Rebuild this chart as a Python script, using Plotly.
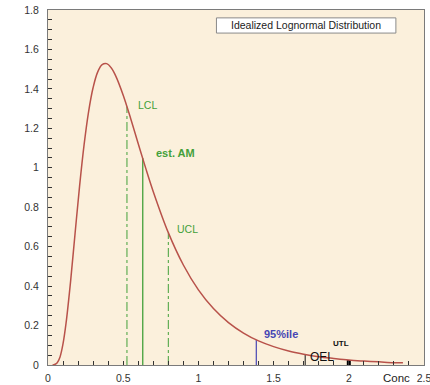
import plotly.graph_objects as go

# Curve (idealized lognormal density)
conc = [0.03, 0.04, 0.06, 0.08, 0.10, 0.12, 0.15, 0.18, 0.21, 0.24, 0.27, 0.30, 0.33,
        0.36, 0.39, 0.42, 0.45, 0.50, 0.55, 0.60, 0.65, 0.70, 0.80, 0.90, 1.0,
        1.1, 1.2, 1.3, 1.4, 1.5, 1.6, 1.7, 1.8, 1.9, 2.0, 2.1, 2.2, 2.3, 2.36]
density = [0.0, 0.001, 0.010, 0.041, 0.108, 0.212, 0.423, 0.667, 0.907, 1.117, 1.285,
           1.407, 1.485, 1.523, 1.528, 1.507, 1.466, 1.368, 1.249, 1.122, 0.997,
           0.879, 0.671, 0.507, 0.381, 0.286, 0.215, 0.162, 0.122, 0.093, 0.071,
           0.055, 0.042, 0.033, 0.025, 0.020, 0.016, 0.012, 0.011]

# Reference markers
marker_names = ["LCL", "est. AM", "UCL", "95%ile", "OEL", "UTL"]
marker_x = [0.525, 0.63, 0.80, 1.385, 1.71, 2.0]
marker_top = [1.31, 1.05, 0.67, 0.127, 0.055, 0.025]

x_tickvals = [0, 0.5, 1, 1.5, 2, 2.5]
x_ticktext = ["0", "0.5", "1", "1.5", "2", "2.5"]
y_tickvals = [0, 0.2, 0.4, 0.6, 0.8, 1, 1.2, 1.4, 1.6, 1.8]
y_ticktext = ["0", "0.2", "0.4", "0.6", "0.8", "1", "1.2", "1.4", "1.6", "1.8"]

green = "#43a03a"
blue = "#4646b4"
styles = {
    "LCL": dict(color=green, width=1, dash="dashdot"),
    "est. AM": dict(color=green, width=1.3, dash="solid"),
    "UCL": dict(color=green, width=1, dash="dashdot"),
    "95%ile": dict(color=blue, width=1.2, dash="solid"),
    "OEL": dict(color="#111111", width=1, dash="solid"),
    "UTL": dict(color="#000000", width=4, dash="solid"),
}

fig = go.Figure()
for name, xv, top in zip(marker_names, marker_x, marker_top):
    fig.add_trace(go.Scatter(x=[xv, xv], y=[0, top], mode="lines",
                             line=styles[name], showlegend=False, hoverinfo="skip"))

fig.add_trace(go.Scatter(x=conc, y=density, mode="lines",
                         line=dict(color="#b8524a", width=1.5, shape="spline"),
                         showlegend=False))

font = "Arial, Liberation Sans, sans-serif"
ann = [
    dict(x=0.66, y=1.32, text="LCL", font=dict(color=green, size=10.5)),
    dict(x=0.845, y=1.075, text="<b>est. AM</b>", font=dict(color=green, size=11)),
    dict(x=0.93, y=0.69, text="UCL", font=dict(color=green, size=10.5)),
    dict(x=1.55, y=0.158, text="<b>95%ile</b>", font=dict(color=blue, size=11)),
    dict(x=1.945, y=0.107, text="<b>UTL</b>", font=dict(color="#111111", size=8)),
    dict(x=1.82, y=0.04, text="OEL", font=dict(color="#111111", size=12)),
    dict(x=1.713, y=1.722, text="Idealized Lognormal Distribution",
         font=dict(color="#222222", size=10.5)),
]
for a in ann:
    fig.add_annotation(xref="x", yref="y", showarrow=False, **a)

fig.add_annotation(xref="x", yref="paper", x=2.32, y=-0.037, yanchor="middle",
                   text="Conc", showarrow=False, font=dict(color="#222222", size=11.5))

fig.add_shape(type="rect", xref="x", yref="y", x0=1.12, x1=2.313, y0=1.683, y1=1.76,
              fillcolor="white", line=dict(color="#8a8a8a", width=1), layer="below")

axis_common = dict(showgrid=False, zeroline=False, showline=True, mirror=True,
                   linecolor="#7a7a7a", linewidth=1, ticks="inside", ticklen=4,
                   tickcolor="#333333", automargin=False, ticklabeloverflow="allow",
                   tickfont=dict(size=10.5, color="#333333", family=font))

fig.update_xaxes(range=[0, 2.5], tickvals=x_tickvals, ticktext=x_ticktext,
                 minor=dict(dtick=0.1, ticks="inside", ticklen=4, tickcolor="#333333"),
                 ticklabelstandoff=3, **axis_common)
fig.update_yaxes(range=[0, 1.8], tickvals=y_tickvals, ticktext=y_ticktext,
                 minor=dict(dtick=0.05, ticks="inside", ticklen=4, tickcolor="#333333"),
                 ticklabelstandoff=6, **axis_common)

fig.update_layout(width=430, height=385, margin=dict(l=48, r=6, t=10, b=20),
                  paper_bgcolor="white", plot_bgcolor="#fbf0dc",
                  font=dict(family=font), showlegend=False)

fig.write_html("out.html", config={"displayModeBar": False},
               post_script="document.body.style.margin='0';document.body.style.overflow='hidden';")
